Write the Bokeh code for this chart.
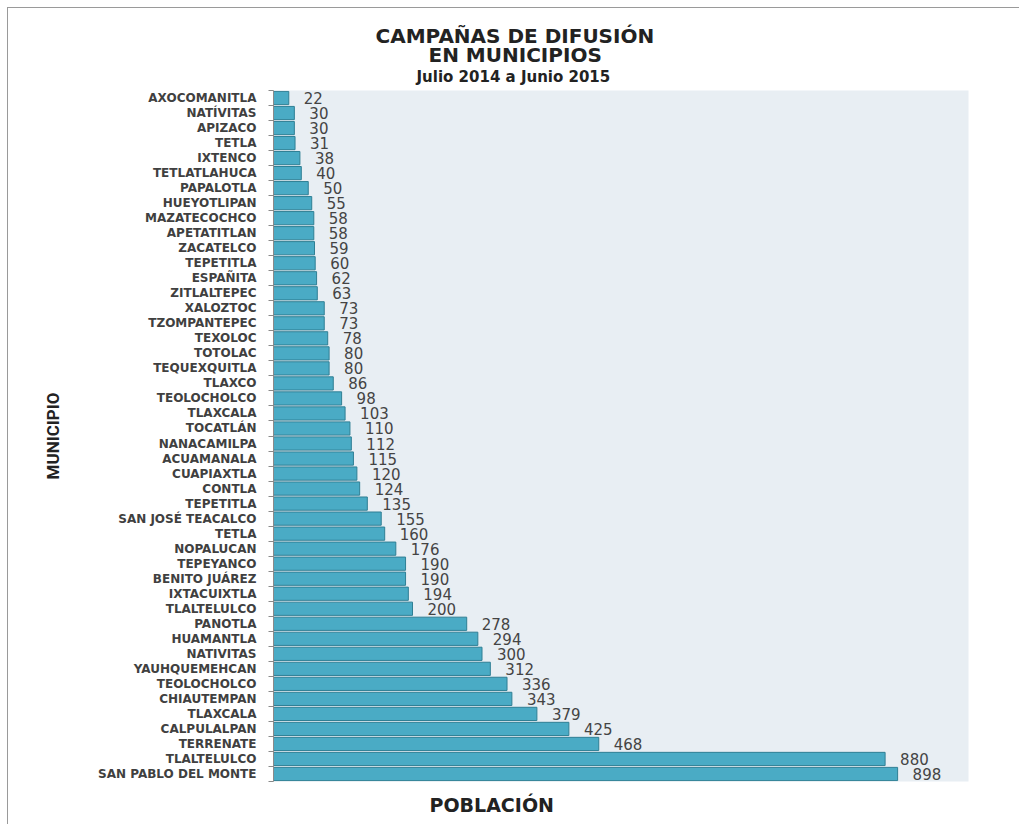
from bokeh.plotting import figure
from bokeh.models import Range1d, FixedTicker, Title, ColumnDataSource
from bokeh.embed import file_html
from bokeh.resources import INLINE
from bokeh.core.properties import value

municipios = [
    "AXOCOMANITLA", "NATÍVITAS", "APIZACO", "TETLA", "IXTENCO", "TETLATLAHUCA",
    "PAPALOTLA", "HUEYOTLIPAN", "MAZATECOCHCO", "APETATITLAN", "ZACATELCO",
    "TEPETITLA", "ESPAÑITA", "ZITLALTEPEC", "XALOZTOC", "TZOMPANTEPEC",
    "TEXOLOC", "TOTOLAC", "TEQUEXQUITLA", "TLAXCO", "TEOLOCHOLCO", "TLAXCALA",
    "TOCATLÁN", "NANACAMILPA", "ACUAMANALA", "CUAPIAXTLA", "CONTLA",
    "TEPETITLA", "SAN JOSÉ TEACALCO", "TETLA", "NOPALUCAN", "TEPEYANCO",
    "BENITO JUÁREZ", "IXTACUIXTLA", "TLALTELULCO", "PANOTLA", "HUAMANTLA",
    "NATIVITAS", "YAUHQUEMEHCAN", "TEOLOCHOLCO", "CHIAUTEMPAN", "TLAXCALA",
    "CALPULALPAN", "TERRENATE", "TLALTELULCO", "SAN PABLO DEL MONTE",
]
campanas = [
    22, 30, 30, 31, 38, 40,
    50, 55, 58, 58, 59,
    60, 62, 63, 73, 73,
    78, 80, 80, 86, 98, 103,
    110, 112, 115, 120, 124,
    135, 155, 160, 176, 190,
    190, 194, 200, 278, 294,
    300, 312, 336, 343, 379,
    425, 468, 880, 898,
]
titulo = ["CAMPAÑAS DE DIFUSIÓN", "EN MUNICIPIOS", "Julio 2014 a Junio 2015"]
eje_y = "MUNICIPIO"
eje_x = "POBLACIÓN"

n = len(municipios)
pos = list(range(1, n + 1))
src = ColumnDataSource(dict(y=pos, x=campanas, txt=[str(v) for v in campanas]))

p = figure(width=1012, height=817, output_backend="svg", toolbar_location=None,
           x_range=Range1d(0, 1000), y_range=Range1d(n + 0.5, 0.5),
           min_border_left=265, min_border_right=52, min_border_top=82,
           min_border_bottom=44,
           styles={"margin-left": "7px", "margin-top": "7px",
                   "border-left": "1px solid #9a9a9a",
                   "border-top": "1px solid #9a9a9a"})

p.background_fill_color = "#e8eef3"
p.border_fill_color = "white"
p.outline_line_color = None
p.xgrid.visible = False
p.ygrid.visible = False
p.xaxis.visible = False

p.hbar(y="y", left=0, right="x", height=0.88, source=src,
       fill_color="#4aabc5", line_color="#2f7f94", line_width=1)
p.text(x="x", y="y", text="txt", source=src, x_offset=15,
       text_align="left", text_baseline="middle",
       text_font=value("DejaVu Sans"), text_font_size="15px", text_color="#444444")

ya = p.yaxis[0]
ya.ticker = FixedTicker(ticks=pos, minor_ticks=[i + 0.5 for i in range(0, n + 1)])
ya.major_label_overrides = {i: name for i, name in zip(pos, municipios)}
ya.axis_line_color = "#8a8a8a"
ya.major_tick_line_color = None
ya.major_tick_out = 0
ya.major_tick_in = 0
ya.minor_tick_line_color = "#8a8a8a"
ya.minor_tick_out = 5
ya.minor_tick_in = 0
ya.major_label_text_font = "DejaVu Sans"
ya.major_label_text_font_size = "12px"
ya.major_label_text_font_style = "bold"
ya.major_label_text_color = "#404040"
ya.major_label_standoff = 12
ya.axis_label = eje_y
ya.axis_label_text_font = "Roboto"
ya.axis_label_text_font_size = "17px"
ya.axis_label_text_font_style = "bold"
ya.axis_label_text_color = "#222222"
ya.axis_label_standoff = 32

title_kw = dict(align="left", text_font="DejaVu Sans", text_color="#222222",
                text_font_style="bold")
p.add_layout(Title(text=titulo[2], text_font_size="15px", offset=143,
                   standoff=9, **title_kw), "above")
p.add_layout(Title(text=titulo[1], text_font_size="20px", offset=155,
                   standoff=-10, **title_kw), "above")
p.add_layout(Title(text=titulo[0], text_font_size="20px", offset=102,
                   standoff=-4, **title_kw), "above")
p.add_layout(Title(text=eje_x, text_font_size="19px", offset=156,
                   standoff=20, **title_kw), "below")

open("out.html", "w").write(file_html(p, INLINE))
